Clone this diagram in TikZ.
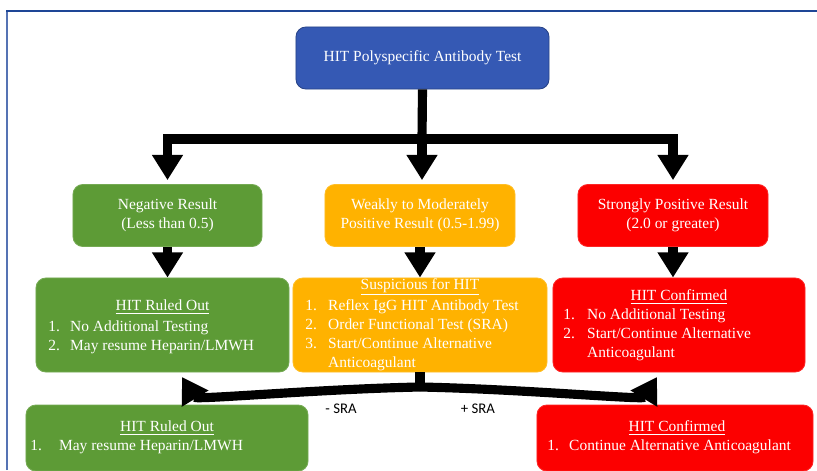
\documentclass[tikz,border=0pt]{standalone}
\usepackage{fontspec}
\setmainfont{Liberation Serif}
\newfontfamily\sralabelfont{Carlito}
\usetikzlibrary{arrows.meta}

\definecolor{hitblue}{RGB}{53,89,180}
\definecolor{hitgreen}{RGB}{93,155,54}
\definecolor{hitorange}{RGB}{255,178,0}
\definecolor{hitred}{RGB}{252,0,0}
\definecolor{framedark}{RGB}{30,70,150}
\definecolor{framelight}{RGB}{85,115,180}

% numbered list: width of number column, rows
\newcommand{\numlist}[2]{\begin{tabular}{@{}p{#1}@{}l@{}}#2\end{tabular}}

\begin{document}
\begin{tikzpicture}[x=0.025cm, y=-0.025cm,
    box/.style={rounded corners=7pt, inner sep=0pt, text=white, align=center,
      font=\fontsize{11}{13.5}\selectfont, line width=0.6pt},
    testbox/.style={box, fill=hitblue, draw=hitblue!75!black},
    negbox/.style={box, fill=hitgreen, draw=hitgreen!85!white},
    weakbox/.style={box, fill=hitorange, draw=hitorange!85!white},
    posbox/.style={box, fill=hitred, draw=hitred!85!white},
    hdr/.style={inner sep=0pt, text=white, font=\fontsize{11}{13.5}\selectfont},
    lst/.style={hdr, anchor=north west},
    fat/.style={line width=6.5pt, line join=miter},
    fatarr/.style={fat, -{Triangle[width=21pt,length=18pt]}},
    sra/.style={inner sep=0pt, font=\sralabelfont\fontsize{10.5}{12}\selectfont}]

    \useasboundingbox (0,0) rectangle (817,470);

    % Frame
    \draw[framelight, line width=1.6pt] (7,470) -- (7,11);
    \draw[framedark, line width=1.6pt] (6.2,11) -- (817,11);

    % Test
    \node[testbox, minimum width=6.325cm, minimum height=1.55cm] (test) at (422.5,58) {HIT Polyspecific Antibody Test};

    % Results
    \node[negbox, minimum width=4.725cm, minimum height=1.55cm] (neg) at (167.5,215.5) {Negative Result\\(Less than 0.5)};
    \node[weakbox, minimum width=4.75cm, minimum height=1.55cm] (weak) at (420,215.5) {Weakly to Moderately\\Positive Result (0.5-1.99)};
    \node[posbox, minimum width=4.75cm, minimum height=1.55cm] (strong) at (673,215.5) {Strongly Positive Result\\(2.0 or greater)};

    % Interpretation
    \node[negbox, minimum width=6.325cm, minimum height=2.35cm] (ruled) at (162.5,325) {};
    \node[hdr] (ruledT) at (162.5,307) {\underline{HIT Ruled Out}};
    \node[lst] (ruledL) at (48,318) {\numlist{15.6pt}{1. & No Additional Testing\\ 2. & May resume Heparin/LMWH}};

    \node[weakbox, minimum width=6.35cm, minimum height=2.35cm] (susp) at (420,325) {};
    \node[hdr] (suspT) at (420,287) {\underline{Suspicious for HIT}};
    \node[lst] (suspL) at (305,297) {\numlist{16.3pt}{1. & Reflex IgG HIT Antibody Test\\ 2. & Order Functional Test (SRA)\\ 3. & Start/Continue Alternative\\ & Anticoagulant}};

    \node[posbox, minimum width=6.3cm, minimum height=2.35cm] (conf) at (679,325) {};
    \node[hdr] (confT) at (679,297) {\underline{HIT Confirmed}};
    \node[lst] (confL) at (563,306) {\numlist{17pt}{1. & No Additional Testing\\ 2. & Start/Continue Alternative\\ & Anticoagulant}};

    % After SRA
    \node[negbox, minimum width=7.05cm, minimum height=1.65cm] (ruledSRA) at (167,438) {};
    \node[hdr] (ruledSRAT) at (167,428) {\underline{HIT Ruled Out}};
    \node[lst] (ruledSRAL) at (30,437) {\numlist{20.5pt}{1. & May resume Heparin/LMWH}};

    \node[posbox, minimum width=6.9cm, minimum height=1.65cm] (confSRA) at (675,438) {};
    \node[hdr] (confSRAT) at (677,428) {\underline{HIT Confirmed}};
    \node[lst] (confSRAL) at (547,437) {\numlist{15.6pt}{1. & Continue Alternative Anticoagulant}};

    % Arrows from the test
    \coordinate (split) at (422,139);
    \draw[fat] (test.south) -- (split);
    \draw[fatarr, shorten >=2.8pt] (split) -| (neg.north);
    \draw[fatarr, shorten >=2.8pt] (split) -- (split |- weak.north);
    \draw[fatarr, shorten >=2.8pt] (split) -| (strong.north);

    % Arrows to interpretation
    \draw[fatarr] (neg.south) -- (neg.south |- ruled.north);
    \draw[fatarr] (weak.south) -- (weak.south |- susp.north);
    \draw[fatarr] (strong.south) -- (strong.south |- conf.north);

    % SRA split
    \coordinate (fork) at (420,387);
    \coordinate (negTip) at (182,377);
    \coordinate (posTip) at (657,377);
    \draw[fat] (susp.south) -- (fork);
    \draw[fatarr] (fork) .. controls (320,389) and (196,400) .. (negTip);
    \draw[fatarr] (fork) .. controls (520,389) and (643,400) .. (posTip);
    \node[sra] (minusSRA) at (341,409) {- SRA};
    \node[sra] (plusSRA) at (478,409) {+ SRA};
  \end{tikzpicture}
\end{document}
